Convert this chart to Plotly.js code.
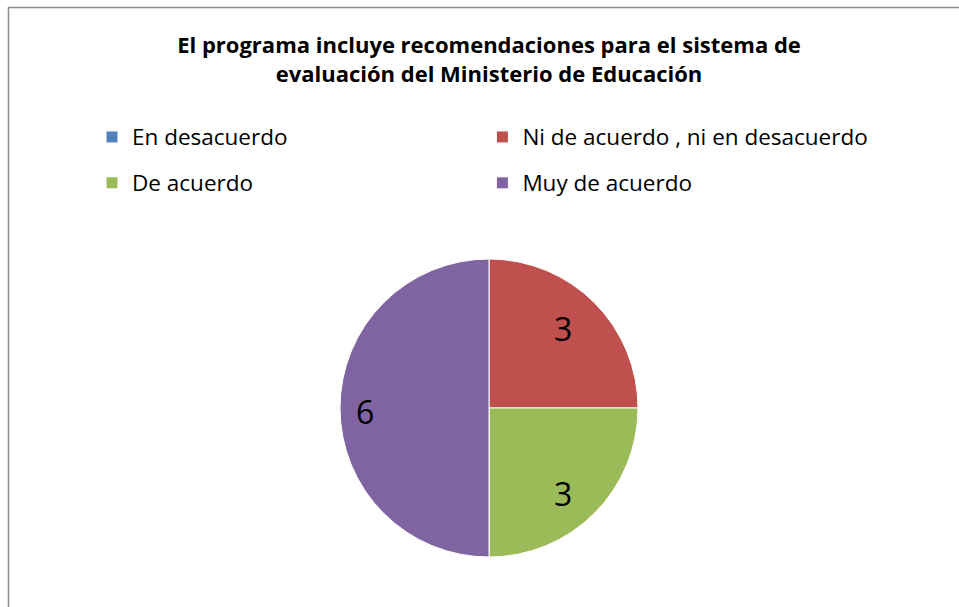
<!DOCTYPE html>
<html>
<head>
<meta charset="utf-8">
<script src="https://cdn.plot.ly/plotly-3.0.1.min.js"></script>
<style>
html,body{margin:0;padding:0;background:#fff;}
#chart{width:959px;height:607px;}
</style>
</head>
<body>
<div id="chart"></div>
<script>
// Data
const categories = ["En desacuerdo", "Ni de acuerdo , ni en desacuerdo", "De acuerdo", "Muy de acuerdo"];
const values = [0, 3, 3, 6];
const colors = ["#4F81BD", "#C0504D", "#9BBB59", "#8064A2"];
const titleText = "El programa incluye recomendaciones para el sistema de<br>evaluación del Ministerio de Educación";
const captionText = "Gráfico 10";

const W = 959, H = 607;
const px = x => x / W;
const py = y => 1 - y / H;

// pie geometry (pixels)
const CX = 489, CY = 408, R = 149;

const trace = {
  type: "pie",
  labels: categories.map(c => '<span style="font-size:22.5px;baseline-shift:5px">' + c + '</span>'),
  values: values,
  textinfo: "none",
  sort: false,
  direction: "clockwise",
  rotation: 0,
  marker: {colors: colors, line: {color: "#ffffff", width: 1}},
  domain: {x: [px(CX - R), px(CX + R)], y: [py(CY + R), py(CY - R)]},
  hoverinfo: "value"
};

// value labels placed at the middle angle of each slice
const total = values.reduce((a, b) => a + b, 0);
const labelAnnotations = [];
let cum = 0;
values.forEach((v, i) => {
  const mid = (cum + v / 2) / total * 2 * Math.PI;
  cum += v;
  if (!v) return;
  const r = R * 0.78;
  const x = CX - 8 + r * Math.sin(mid);
  const y = CY + 3 - r * Math.cos(mid);
  labelAnnotations.push({
    text: String(v), xref: "paper", yref: "paper",
    x: px(x), y: py(y), xanchor: "center", yanchor: "middle",
    showarrow: false,
    font: {family: "Open Sans", size: 32, color: "#000000"}
  });
});

const layout = {
  width: W, height: H,
  margin: {l: 0, r: 0, t: 0, b: 0},
  paper_bgcolor: "#ffffff",
  font: {family: "Open Sans", color: "#000000"},
  title: {
    text: titleText,
    font: {family: "Open Sans", size: 22, weight: "bold", color: "#000000"},
    x: px(489), xanchor: "center",
    y: py(53), yanchor: "middle", yref: "container"
  },
  showlegend: true,
  legend: {
    orientation: "h",
    x: px(92), xanchor: "left",
    y: py(109), yanchor: "top",
    font: {family: "Open Sans", size: 33, color: "#000000"},
    traceorder: "normal",
    itemclick: false
  },
  shapes: [{
    type: "rect", xref: "paper", yref: "paper",
    x0: px(8.5), x1: 1.05, y0: -0.05, y1: py(7.5),
    line: {color: "#8c8c8c", width: 1.5}, fillcolor: "rgba(0,0,0,0)"
  }],
  annotations: [{
    text: "<b>" + captionText + "</b>",
    xref: "paper", yref: "paper",
    x: px(33), xanchor: "left",
    y: py(4), yanchor: "bottom",
    showarrow: false,
    font: {family: "Open Sans", size: 16, color: "#000000"}
  }].concat(labelAnnotations)
};

Plotly.newPlot("chart", [trace], layout, {displayModeBar: false, staticPlot: true});
</script>
</body>
</html>
